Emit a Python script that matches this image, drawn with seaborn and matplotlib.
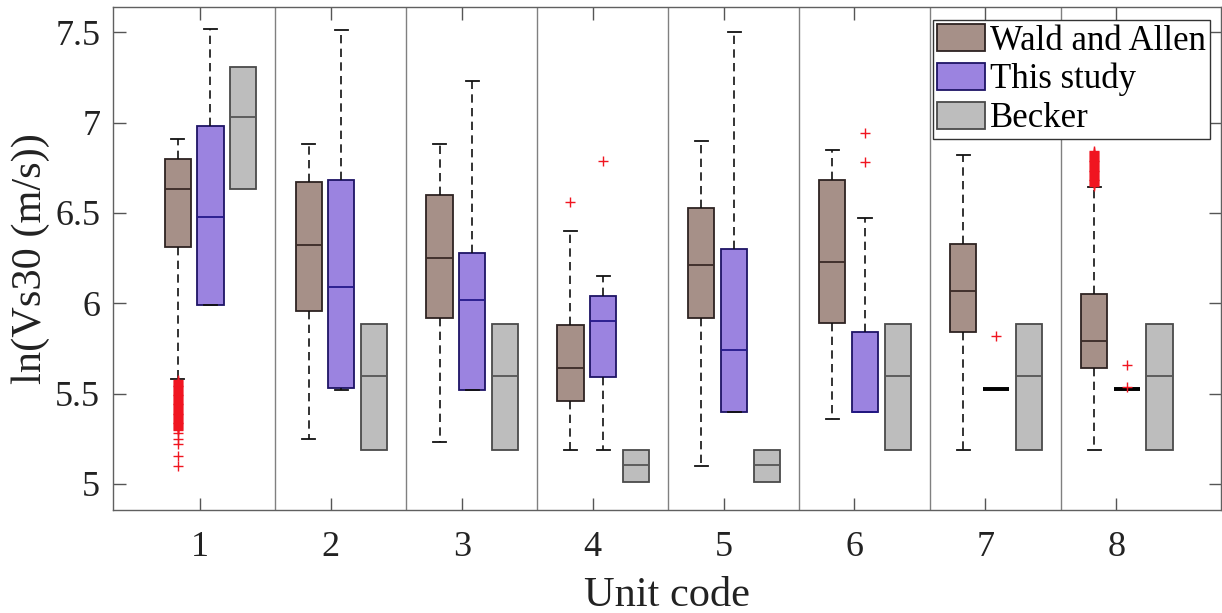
import numpy as np
import pandas as pd
import matplotlib
matplotlib.use("Agg")
import matplotlib.pyplot as plt
import seaborn as sns
from matplotlib.patches import Patch

# ---------------- data ----------------
units = [1, 2, 3, 4, 5, 6, 7, 8]
tick_labels = ["1", "2", "3", "4", "5", "6", "7", "8"]
series_names = ["Wald and Allen", "This study", "Becker"]

# Wald and Allen: lower whisker, Q1, median, Q3, upper whisker
wa_lo  = [5.58, 5.25, 5.23, 5.19, 5.10, 5.36, 5.19, 5.19]
wa_q1  = [6.31, 5.96, 5.92, 5.46, 5.92, 5.89, 5.84, 5.64]
wa_med = [6.63, 6.32, 6.25, 5.64, 6.21, 6.23, 6.07, 5.79]
wa_q3  = [6.80, 6.67, 6.60, 5.88, 6.53, 6.68, 6.33, 6.05]
wa_hi  = [6.91, 6.88, 6.88, 6.40, 6.90, 6.85, 6.82, 6.645]

# This study
ts_lo  = [5.99, 5.52, 5.52, 5.19, 5.40, 5.40, 5.525, 5.525]
ts_q1  = [5.99, 5.53, 5.52, 5.59, 5.40, 5.40, 5.525, 5.525]
ts_med = [6.48, 6.09, 6.02, 5.90, 5.74, 5.40, 5.525, 5.525]
ts_q3  = [6.98, 6.68, 6.28, 6.04, 6.30, 5.84, 5.525, 5.525]
ts_hi  = [7.52, 7.51, 7.23, 6.15, 7.50, 6.47, 5.525, 5.525]

# Becker (no whiskers)
bk_lo  = [6.63, 5.19, 5.19, 5.01, 5.01, 5.19, 5.19, 5.19]
bk_q1  = [6.63, 5.19, 5.19, 5.01, 5.01, 5.19, 5.19, 5.19]
bk_med = [7.03, 5.60, 5.60, 5.105, 5.105, 5.60, 5.60, 5.60]
bk_q3  = [7.31, 5.885, 5.885, 5.19, 5.19, 5.885, 5.885, 5.885]
bk_hi  = [7.31, 5.885, 5.885, 5.19, 5.19, 5.885, 5.885, 5.885]

# Outliers (Wald and Allen)
wa_out_u1 = [5.575, 5.57, 5.565, 5.56, 5.555, 5.55, 5.545, 5.54, 5.535, 5.53,
             5.525, 5.52, 5.515, 5.51, 5.505, 5.50, 5.495, 5.49, 5.485, 5.48,
             5.475, 5.47, 5.465, 5.46, 5.455, 5.45, 5.445, 5.44, 5.435, 5.43,
             5.425, 5.42, 5.415, 5.41, 5.405, 5.40, 5.395, 5.39, 5.385, 5.38,
             5.375, 5.37, 5.365, 5.36, 5.355, 5.35, 5.345, 5.34, 5.335, 5.33,
             5.325, 5.32, 5.315, 5.31, 5.305, 5.30, 5.28, 5.25, 5.22, 5.155,
             5.10]
wa_out_u4 = [6.56]
wa_out_u8 = [6.65, 6.655, 6.66, 6.665, 6.67, 6.675, 6.68, 6.685, 6.69, 6.695,
             6.70, 6.705, 6.71, 6.715, 6.72, 6.725, 6.73, 6.735, 6.74, 6.745,
             6.75, 6.755, 6.76, 6.765, 6.77, 6.775, 6.78, 6.785, 6.79, 6.795,
             6.80, 6.805, 6.81, 6.815, 6.82, 6.825, 6.83, 6.835, 6.845]
wa_out_unit = [1] * len(wa_out_u1) + [4] * len(wa_out_u4) + [8] * len(wa_out_u8)
wa_out_val = wa_out_u1 + wa_out_u4 + wa_out_u8
# Outliers (This study)
ts_out_unit = [4, 6, 6, 7, 8, 8]
ts_out_val = [6.785, 6.94, 6.78, 5.82, 5.66, 5.535]

# ---------------- style ----------------
plt.rcParams["font.family"] = ["Liberation Serif", "DejaVu Serif"]
plt.rcParams["axes.linewidth"] = 1.0

fig = plt.figure(figsize=(12.22, 6.13), dpi=100)
ax = fig.add_axes([0.0922, 0.168, 0.907, 0.820])

specs = [
    dict(stats=(wa_lo, wa_q1, wa_med, wa_q3, wa_hi), off=-0.17,
         fill="#a69088", edge="#2e2322", med="#3a2a26", caps=True,
         out=(wa_out_unit, wa_out_val)),
    dict(stats=(ts_lo, ts_q1, ts_med, ts_q3, ts_hi), off=0.08,
         fill="#9b83e0", edge="#1e1466", med="#24188a", caps=True,
         out=(ts_out_unit, ts_out_val)),
    dict(stats=(bk_lo, bk_q1, bk_med, bk_q3, bk_hi), off=0.33,
         fill="#bdbdbd", edge="#4a4a4a", med="#555555", caps=False,
         out=None),
]

dash = (0, (5, 3.2))
for sp in specs:
    rows, flat_rows = [], []
    lo, q1, med, q3, hi = sp["stats"]
    for i, u in enumerate(units):
        target = flat_rows if (q3[i] == q1[i] and hi[i] == lo[i]) else rows
        for arr in sp["stats"]:
            target.append({"pos": u + sp["off"], "val": arr[i]})
    df = pd.DataFrame(rows)
    sns.boxplot(data=df, x="pos", y="val", native_scale=True, orient="x",
                width=0.2, whis=(0, 100), color=sp["fill"],
                linecolor=sp["edge"], linewidth=1.3, saturation=1,
                showfliers=False, showcaps=sp["caps"],
                whiskerprops=dict(color="#111111", linestyle=dash, linewidth=1.2),
                capprops=dict(color="#111111", linewidth=1.3),
                medianprops=dict(color=sp["med"], linewidth=1.3),
                ax=ax)
    if flat_rows:
        fdf = pd.DataFrame(flat_rows)
        sns.boxplot(data=fdf, x="pos", y="val", native_scale=True, orient="x",
                    width=0.2, whis=(0, 100), color="black",
                    linecolor="black", linewidth=2.6, saturation=1,
                    showfliers=False, showcaps=False,
                    medianprops=dict(color="black", linewidth=2.6),
                    ax=ax)
    if sp["out"] is not None:
        ou, ov = sp["out"]
        odf = pd.DataFrame({"pos": [u + sp["off"] for u in ou], "val": ov})
        sns.scatterplot(data=odf, x="pos", y="val", marker="+", color="#f01520",
                        s=45, linewidth=1.0, ax=ax, zorder=5, legend=False)

# group separators
for u in units[:-1]:
    ax.axvline(u + 0.574, color="#808080", lw=1.0, zorder=0)

ax.set_xlim(0.333, 8.80)
ax.set_ylim(4.856, 7.638)
ax.set_xticks(units)
ax.set_xticklabels(tick_labels)
ax.set_yticks([5, 5.5, 6, 6.5, 7, 7.5])
ax.set_yticklabels(["5", "5.5", "6", "6.5", "7", "7.5"])
ax.tick_params(axis="both", direction="in", length=9, width=1.0,
               color="#555555", labelcolor="#222222", labelsize=26,
               top=True, right=True)
ax.tick_params(axis="y", pad=9)
ax.tick_params(axis="x", pad=15)
for s in ax.spines.values():
    s.set_color("#606060")
    s.set_linewidth(1.0)

ax.set_xlabel("Unit code", fontsize=30.5, color="#222222", labelpad=9)
ax.set_ylabel("ln(Vs30 (m/s))", fontsize=30.5, color="#222222", labelpad=4)

handles = [Patch(facecolor=sp["fill"], edgecolor=sp["edge"], linewidth=1.3)
           for sp in specs]
leg = ax.legend(handles, series_names, loc="upper right",
                bbox_to_anchor=(0.990, 0.975), borderaxespad=0,
                fontsize=25, frameon=True, fancybox=False, framealpha=1,
                edgecolor="#333333", handlelength=1.38, handleheight=0.82,
                handletextpad=0.15, labelspacing=0.15, borderpad=0.12)
leg.get_frame().set_linewidth(1.0)

fig.savefig("out.png", dpi=100)
